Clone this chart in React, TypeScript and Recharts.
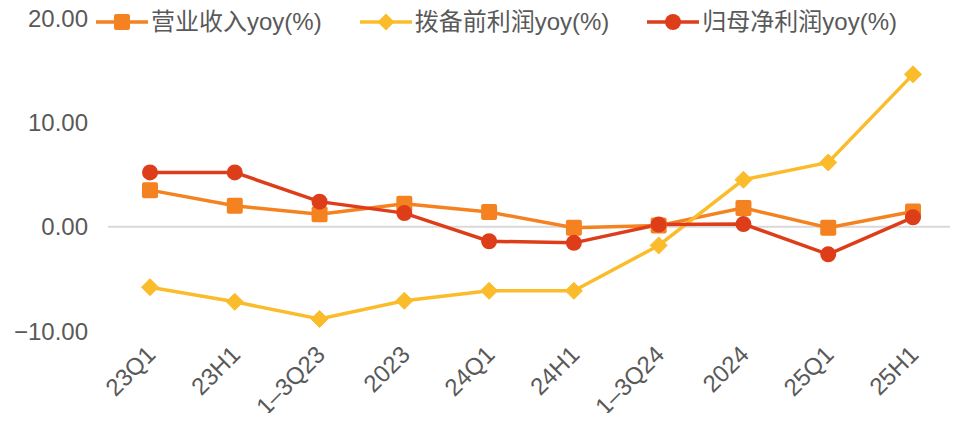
import { LineChart, Line, XAxis, YAxis, ReferenceLine, Legend } from 'recharts';

const FONT = '"Liberation Sans", Arial, "Noto Sans CJK SC", sans-serif';
const TEXT = '#595959';

const COLORS = {
  revenue: '#F58220',
  ppop: '#FBBC2C',
  profit: '#DE3D1A',
};

// ─── Data ─────────────────────────────────────────────────────────────────────
const periods = ['23Q1', '23H1', '1–3Q23', '2023', '24Q1', '24H1', '1–3Q24', '2024', '25Q1', '25H1'];
const revenueYoy = [3.5, 2.0, 1.2, 2.2, 1.4, -0.1, 0.1, 1.8, -0.1, 1.45];
const ppopYoy = [-5.8, -7.2, -8.85, -7.1, -6.15, -6.15, -1.8, 4.5, 6.15, 14.6];
const profitYoy = [5.2, 5.2, 2.4, 1.3, -1.4, -1.55, 0.2, 0.25, -2.65, 0.9];
const yTicks = [-10, 0, 10, 20];

const seriesNames = ['营业收入yoy(%)', '拨备前利润yoy(%)', '归母净利润yoy(%)'];

const chartData = periods.map((p, i) => ({
  period: p,
  revenue: revenueYoy[i],
  ppop: ppopYoy[i],
  profit: profitYoy[i],
}));

// ─── Markers ──────────────────────────────────────────────────────────────────
function SquareDot({ cx, cy }: any) {
  if (cx == null || cy == null) return null;
  return <rect x={cx - 8} y={cy - 8} width={16} height={16} rx={2} fill={COLORS.revenue} />;
}

function DiamondDot({ cx, cy }: any) {
  if (cx == null || cy == null) return null;
  const s = 8.5;
  return (
    <polygon
      points={`${cx},${cy - s} ${cx + s},${cy} ${cx},${cy + s} ${cx - s},${cy}`}
      fill={COLORS.ppop}
      strokeLinejoin="round"
      stroke={COLORS.ppop}
      strokeWidth={1}
    />
  );
}

function CircleDot({ cx, cy }: any) {
  if (cx == null || cy == null) return null;
  return <circle cx={cx} cy={cy} r={8} fill={COLORS.profit} />;
}

function LegendIcon({ kind, color }: { kind: string; color: string }) {
  return (
    <svg width={52} height={20} style={{ display: 'block' }}>
      <line x1={0} y1={10} x2={52} y2={10} stroke={color} strokeWidth={3.5} />
      {kind === 'square' && <rect x={18} y={2} width={16} height={16} rx={2} fill={color} />}
      {kind === 'diamond' && <polygon points="26,1.5 34.5,10 26,18.5 17.5,10" fill={color} />}
      {kind === 'circle' && <circle cx={26} cy={10} r={8} fill={color} />}
    </svg>
  );
}

function ChartLegend() {
  const items = [
    { name: seriesNames[0], kind: 'square', color: COLORS.revenue },
    { name: seriesNames[1], kind: 'diamond', color: COLORS.ppop },
    { name: seriesNames[2], kind: 'circle', color: COLORS.profit },
  ];
  return (
    <div style={{ display: 'flex', alignItems: 'center', fontFamily: FONT, fontSize: 24, color: TEXT }}>
      {items.map(it => (
        <div key={it.name} style={{ display: 'flex', alignItems: 'center', marginRight: 38 }}>
          <LegendIcon kind={it.kind} color={it.color} />
          <span style={{ marginLeft: 3, whiteSpace: 'nowrap', lineHeight: '28px' }}>{it.name}</span>
        </div>
      ))}
    </div>
  );
}

function XTick({ x, y, payload }: any) {
  const ax = x + 7;
  const ay = y + 17;
  return (
    <text
      x={ax}
      y={ay}
      transform={`rotate(-45, ${ax}, ${ay})`}
      textAnchor="end"
      fill={TEXT}
      fontSize={24}
      fontFamily={FONT}
    >
      {payload.value}
    </text>
  );
}

const fmtY = (v: number) => (v < 0 ? `−${Math.abs(v).toFixed(2)}` : v.toFixed(2));

export default function App() {
  return (
    <div style={{ width: 958, height: 421, margin: -8, background: '#fff', position: 'relative' }}>
      <LineChart width={958} height={421} data={chartData} margin={{ top: 18, right: 3, bottom: 0, left: 0 }}>
        <XAxis
          dataKey="period"
          axisLine={false}
          tickLine={false}
          height={90}
          interval={0}
          padding={{ left: 42, right: 42 }}
          tick={<XTick />}
        />
        <YAxis
          domain={[-10, 20]}
          ticks={yTicks}
          width={108}
          axisLine={false}
          tickLine={false}
          tickSize={0}
          tickMargin={20}
          tickFormatter={fmtY}
          tick={{ fill: TEXT, fontSize: 24, fontFamily: FONT }}
        />
        <ReferenceLine y={0} stroke="#D9D9D9" strokeWidth={2} />
        <Legend
          layout="horizontal"
          verticalAlign="middle"
          align="center"
          wrapperStyle={{ top: 8, left: 96, width: 'auto' }}
          content={() => <ChartLegend />}
        />
        <Line
          dataKey="revenue"
          name={seriesNames[0]}
          stroke={COLORS.revenue}
          strokeWidth={3.5}
          dot={<SquareDot />}
          activeDot={false}
          isAnimationActive={false}
        />
        <Line
          dataKey="ppop"
          name={seriesNames[1]}
          stroke={COLORS.ppop}
          strokeWidth={3.5}
          dot={<DiamondDot />}
          activeDot={false}
          isAnimationActive={false}
        />
        <Line
          dataKey="profit"
          name={seriesNames[2]}
          stroke={COLORS.profit}
          strokeWidth={3.5}
          dot={<CircleDot />}
          activeDot={false}
          isAnimationActive={false}
        />
      </LineChart>
    </div>
  );
}
